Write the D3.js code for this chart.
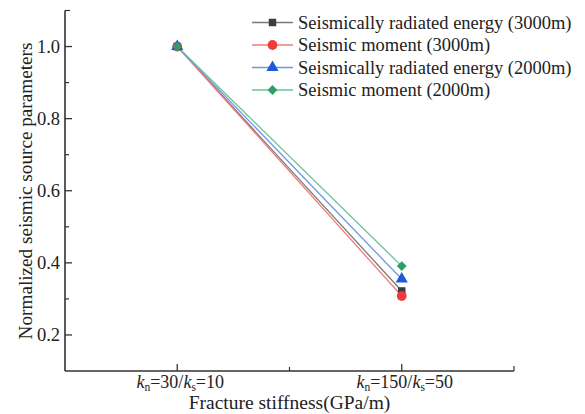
<!DOCTYPE html>
<html><head><meta charset="utf-8">
<script src="https://cdn.jsdelivr.net/npm/d3@7"></script>
<style>body{margin:0;background:#fff}svg{display:block}</style>
</head><body><svg id="c" width="585" height="414"></svg>
<script>
const categories = [1, 2];
const categoryLabels = [["30","10"],["150","50"]];
const seriesNames = ["Seismically radiated energy (3000m)","Seismic moment (3000m)","Seismically radiated energy (2000m)","Seismic moment (2000m)"];
const energy3000 = [1.0, 0.322];
const moment3000 = [1.0, 0.308];
const energy2000 = [1.0, 0.355];
const moment2000 = [1.0, 0.391];
const yTicks = [0.2, 0.4, 0.6, 0.8, 1.0];
const yMinor = [0.3, 0.5, 0.7, 0.9];

const FONT = "'Liberation Serif', 'Times New Roman', Times, serif";
const series = [
  {name: seriesNames[0], values: energy3000, line:"#7a7a7a", fill:"#3d3d3d", sym:d3.symbolSquare, size:56, rot:0},
  {name: seriesNames[1], values: moment3000, line:"#f07a7a", fill:"#f23a3a", sym:d3.symbolCircle, size:75, rot:0},
  {name: seriesNames[2], values: energy2000, line:"#6f98e6", fill:"#1f58d8", sym:d3.symbolTriangle, size:64, rot:0},
  {name: seriesNames[3], values: moment2000, line:"#6cc097", fill:"#2aa063", sym:d3.symbolSquare, size:48, rot:45}
];

const svg = d3.select("#c").attr("font-family", FONT);
const x = d3.scaleLinear().domain([0.5, 2.5]).range([65, 514]);
const y = d3.scaleLinear().domain([0.1, 1.1]).range([371, 10.5]);
const axCol = "#333";

svg.append("line").attr("x1",65).attr("x2",65).attr("y1",y(1.1)).attr("y2",y(0.1)).attr("stroke",axCol).attr("stroke-width",1.6);
svg.append("line").attr("x1",65).attr("x2",x(2.5)).attr("y1",y(0.1)).attr("y2",y(0.1)).attr("stroke",axCol).attr("stroke-width",1.6);
svg.selectAll(".yt").data(yTicks).enter().append("line").attr("x1",65).attr("x2",72).attr("y1",d=>y(d)).attr("y2",d=>y(d)).attr("stroke",axCol).attr("stroke-width",1.3);
svg.selectAll(".ym").data(yMinor).enter().append("line").attr("x1",65).attr("x2",69).attr("y1",d=>y(d)).attr("y2",d=>y(d)).attr("stroke",axCol).attr("stroke-width",1.2);
svg.append("line").attr("x1",65).attr("x2",70).attr("y1",y(1.1)).attr("y2",y(1.1)).attr("stroke",axCol).attr("stroke-width",1.2);
svg.selectAll(".yl").data(yTicks).enter().append("text").attr("x",60).attr("y",d=>y(d)).attr("dy","0.35em").attr("text-anchor","end").attr("font-size",18.5).attr("fill","#222").text(d=>d.toFixed(1));
svg.selectAll(".xt").data(categories).enter().append("line").attr("x1",d=>x(d)).attr("x2",d=>x(d)).attr("y1",371).attr("y2",364).attr("stroke",axCol).attr("stroke-width",1.3);
svg.selectAll(".xm").data([1.5]).enter().append("line").attr("x1",d=>x(d)).attr("x2",d=>x(d)).attr("y1",371).attr("y2",367).attr("stroke",axCol).attr("stroke-width",1.2);
svg.append("line").attr("x1",x(2.5)).attr("x2",x(2.5)).attr("y1",371).attr("y2",366).attr("stroke",axCol).attr("stroke-width",1.2);
const xl = svg.selectAll(".xl").data(categories).enter().append("text").attr("x",d=>x(d)+3).attr("y",388).attr("text-anchor","middle").attr("font-size",18).attr("fill","#222");
xl.each(function(d,i){
  const t = d3.select(this);
  t.append("tspan").attr("font-style","italic").text("k");
  t.append("tspan").attr("font-size",11.5).attr("dy",3).text("n");
  t.append("tspan").attr("dy",-3).text("=" + categoryLabels[i][0] + "/");
  t.append("tspan").attr("font-style","italic").text("k");
  t.append("tspan").attr("font-size",11.5).attr("dy",3).text("s");
  t.append("tspan").attr("dy",-3).text("=" + categoryLabels[i][1]);
});
svg.append("text").attr("x",x(1.5)).attr("y",409).attr("text-anchor","middle").attr("font-size",19.5).attr("fill","#222").text("Fracture stiffness(GPa/m)");
svg.append("text").attr("transform","translate(32,191) rotate(-90)").attr("text-anchor","middle").attr("font-size",19.2).attr("fill","#222").text("Normalized seismic source parameters");

const line = d3.line().x((d,i)=>x(categories[i])).y(d=>y(d));
series.forEach(s=>{
  svg.append("path").attr("d",line(s.values)).attr("fill","none").attr("stroke",s.line).attr("stroke-width",1.3);
});
series.forEach(s=>{
  svg.selectAll(null).data(s.values).enter().append("path")
    .attr("transform",(d,i)=>`translate(${x(categories[i])},${y(d)}) rotate(${s.rot})`)
    .attr("d",d3.symbol().type(s.sym).size(s.size)).attr("fill",s.fill);
});

const lg = svg.append("g");
series.forEach((s,i)=>{
  const yy = 22.5 + i*22.5;
  lg.append("line").attr("x1",252).attr("x2",293).attr("y1",yy).attr("y2",yy).attr("stroke",s.line).attr("stroke-width",1.3);
  lg.append("path").attr("transform",`translate(272.5,${yy}) rotate(${s.rot})`).attr("d",d3.symbol().type(s.sym).size(s.size)).attr("fill",s.fill);
  lg.append("text").attr("x",298).attr("y",yy).attr("dy","0.35em").attr("font-size",18.5).attr("fill","#222").text(s.name);
});
</script></body></html>
